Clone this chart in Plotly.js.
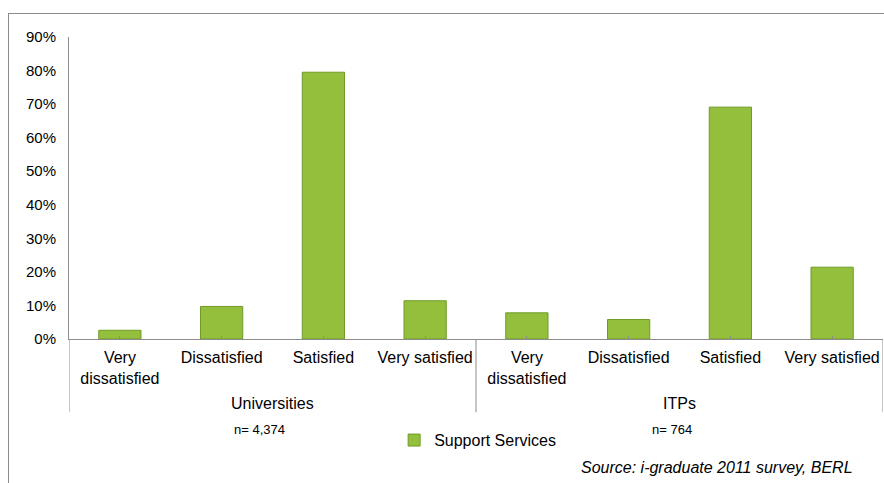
<!DOCTYPE html>
<html>
<head>
<meta charset="utf-8">
<script src="https://cdn.plot.ly/plotly-3.0.1.min.js"></script>
<style>
  html, body { margin: 0; padding: 0; background: #fff; }
  #wrap { position: relative; width: 884px; height: 483px; overflow: hidden; }
  #chart { position: absolute; left: 0; top: 0; width: 884px; height: 483px; }
  #frame { position: absolute; left: 8px; top: 13px; width: 900px; height: 500px; border: 1px solid #8c8c8c; box-sizing: border-box; pointer-events: none; }
</style>
</head>
<body>
<div id="wrap">
  <div id="chart"></div>
  <div id="frame"></div>
</div>
<script>
// Data
const groups = ["Universities", "ITPs"];
const categories = ["Very<br>dissatisfied", "Dissatisfied", "Satisfied", "Very satisfied"];
const universities = [0.026, 0.097, 0.795, 0.114];
const itps = [0.078, 0.058, 0.691, 0.214];
const sampleSizes = ["n= 4,374", "n= 764"];
const seriesName = "Support Services";
const sourceText = "Source: i-graduate 2011 survey, BERL";

// Build unique category keys (group|category) for the x axis
const xKeys = [];
const xLabels = [];
const yVals = [];
groups.forEach((g, gi) => {
  const vals = gi === 0 ? universities : itps;
  categories.forEach((c, ci) => {
    xKeys.push(g + "|" + c);
    xLabels.push(c);
    yVals.push(vals[ci]);
  });
});

const FONT = "Liberation Sans, Arial, sans-serif";
const GRAY = "#8c8c8c";

const trace = {
  type: "bar",
  name: seriesName,
  x: xKeys,
  y: yVals,
  marker: { color: "#93bf3c", line: { color: "#6f9a28", width: 1 } },
  showlegend: true,
  hoverinfo: "y"
};

// Group labels and dividers positioned on the category scale
const nCat = categories.length;
const groupAnnotations = groups.map((g, gi) => ({
  text: g, xref: "x", yref: "paper",
  x: gi * nCat + (nCat - 1) / 2, y: -0.213,
  showarrow: false, xanchor: "center", yanchor: "middle",
  font: { family: FONT, size: 16, color: "#000" }
}));
const dividerShapes = [];
for (let gi = 0; gi <= groups.length; gi++) {
  dividerShapes.push({
    type: "line", xref: "x", yref: "paper",
    x0: gi * nCat - 0.5, x1: gi * nCat - 0.5, y0: 0, y1: -0.2426,
    line: { color: GRAY, width: 1 }
  });
}

const layout = {
  width: 884,
  height: 483,
  margin: { l: 69, r: 1, t: 36.5, b: 143.5 },
  paper_bgcolor: "#ffffff",
  plot_bgcolor: "#ffffff",
  font: { family: FONT, size: 15, color: "#000" },
  bargap: 0.585,
  xaxis: {
    type: "category",
    tickmode: "array",
    tickvals: xKeys,
    ticktext: xLabels,
    tickangle: 0,
    range: [-0.5, xKeys.length - 0.5],
    showline: true,
    linecolor: GRAY,
    linewidth: 1,
    ticks: "inside",
    ticklen: 3,
    tickcolor: GRAY,
    showgrid: false,
    zeroline: false,
    ticklabelstandoff: 4,
    tickfont: { family: FONT, size: 16, color: "#000" }
  },
  yaxis: {
    range: [0, 0.9],
    dtick: 0.1,
    tick0: 0,
    tickformat: ".0%",
    showline: true,
    linecolor: GRAY,
    linewidth: 1,
    ticks: "",
    showgrid: false,
    zeroline: false,
    ticklabelstandoff: 9,
    tickfont: { family: FONT, size: 15, color: "#000" }
  },
  legend: {
    orientation: "h",
    x: 0.502,
    xanchor: "center",
    y: -0.335,
    yanchor: "middle",
    font: { family: FONT, size: 16, color: "#000" },
    itemwidth: 30,
    bgcolor: "rgba(0,0,0,0)"
  },
  shapes: dividerShapes,
  annotations: groupAnnotations.concat([
    { text: sampleSizes[0], xref: "paper", yref: "paper", x: 0.2346, y: -0.299, showarrow: false, xanchor: "center", yanchor: "middle", font: { family: FONT, size: 13, color: "#000" } },
    { text: sampleSizes[1], xref: "paper", yref: "paper", x: 0.741, y: -0.299, showarrow: false, xanchor: "center", yanchor: "middle", font: { family: FONT, size: 13, color: "#000" } },
    { text: "<i>" + sourceText + "</i>", xref: "paper", yref: "paper", x: 0.9656, y: -0.424, showarrow: false, xanchor: "right", yanchor: "middle", font: { family: FONT, size: 16, color: "#000" } }
  ])
};

Plotly.newPlot("chart", [trace], layout, { displayModeBar: false, staticPlot: true });
</script>
</body>
</html>
